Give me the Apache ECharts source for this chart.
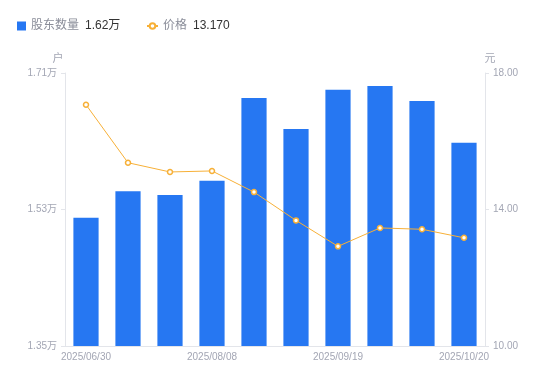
<!DOCTYPE html>
<html><head><meta charset="utf-8">
<script src="https://cdn.jsdelivr.net/npm/echarts@6/dist/echarts.min.js"></script>
<style>html,body{margin:0;padding:0;background:#fff}#c{width:550px;height:381px}</style>
</head><body><div id="c"></div>
<script>
const categories = ['2025/06/30','2025/07/10','2025/07/20','2025/08/08','2025/08/20','2025/08/31','2025/09/19','2025/09/30','2025/10/10','2025/10/20'];
const holders = [1.519, 1.554, 1.549, 1.568, 1.677, 1.636, 1.688, 1.693, 1.673, 1.618];
const prices = [17.07, 15.37, 15.10, 15.13, 14.51, 13.68, 12.92, 13.46, 13.42, 13.17];
const leftTicks = [1.35, 1.53, 1.71];
const rightTicks = [10, 14, 18];
const legendValues = {'股东数量':'1.62万','价格':'13.170'};

const chart = echarts.init(document.getElementById('c'), null, {renderer:'canvas'});
const gray = '#a3a6b4';
const font = '"Liberation Sans","Noto Sans CJK SC",sans-serif';
const legendText = {fontFamily:font, rich:{a:{color:'#8a8d99',fontSize:12,fontFamily:font,padding:[0,6,0,0]},b:{color:'#333',fontSize:12,fontFamily:font}}};
chart.setOption({
  animation:false,
  textStyle:{fontFamily:font},
  legend:[{
    left:12, top:15, itemWidth:9, itemHeight:9, itemGap:5,
    data:[{name:'股东数量', icon:'rect'}],
    formatter: n => '{a|'+n+'}{b|'+legendValues[n]+'}',
    textStyle:legendText
  },{
    left:141, top:15, itemWidth:11, itemHeight:7, itemGap:5,
    data:[{name:'价格'}],
    formatter: n => '{a|'+n+'}{b|'+legendValues[n]+'}',
    textStyle:legendText
  }],
  grid:{left:65,right:65,top:73,bottom:35},
  xAxis:{
    type:'category', data:categories,
    axisLine:{lineStyle:{color:'#e3e5ea'}},
    axisTick:{show:false},
    axisLabel:{color:gray,fontSize:10,interval:2,margin:6}
  },
  yAxis:[{
    type:'value', min:leftTicks[0], max:leftTicks[2], interval:leftTicks[1]-leftTicks[0],
    name:'户', nameGap:9, nameTextStyle:{color:gray,fontSize:11,padding:[0,14,0,0]},
    axisLine:{show:true,lineStyle:{color:'#e3e5ea'}},
    axisTick:{show:true,length:4,lineStyle:{color:'#e3e5ea'}},
    splitLine:{show:false},
    axisLabel:{color:gray,fontSize:10,margin:8,formatter:v=>v.toFixed(2)+'万'}
  },{
    type:'value', min:rightTicks[0], max:rightTicks[2], interval:rightTicks[1]-rightTicks[0],
    name:'元', nameGap:9, nameTextStyle:{color:gray,fontSize:11,padding:[0,0,0,10]},
    axisLine:{show:true,lineStyle:{color:'#e3e5ea'}},
    axisTick:{show:true,length:4,lineStyle:{color:'#e3e5ea'}},
    splitLine:{show:false},
    axisLabel:{color:gray,fontSize:10,margin:8,formatter:v=>v.toFixed(2)}
  }],
  series:[{
    name:'股东数量', type:'bar', data:holders, barWidth:'60%',
    itemStyle:{color:'#2677f2'}
  },{
    name:'价格', type:'line', yAxisIndex:1, data:prices,
    symbol:'circle', symbolSize:5,
    lineStyle:{color:'#f7b037',width:1},
    itemStyle:{color:'#fff',borderColor:'#f7b037',borderWidth:1.5}
  }]
});
</script></body></html>
